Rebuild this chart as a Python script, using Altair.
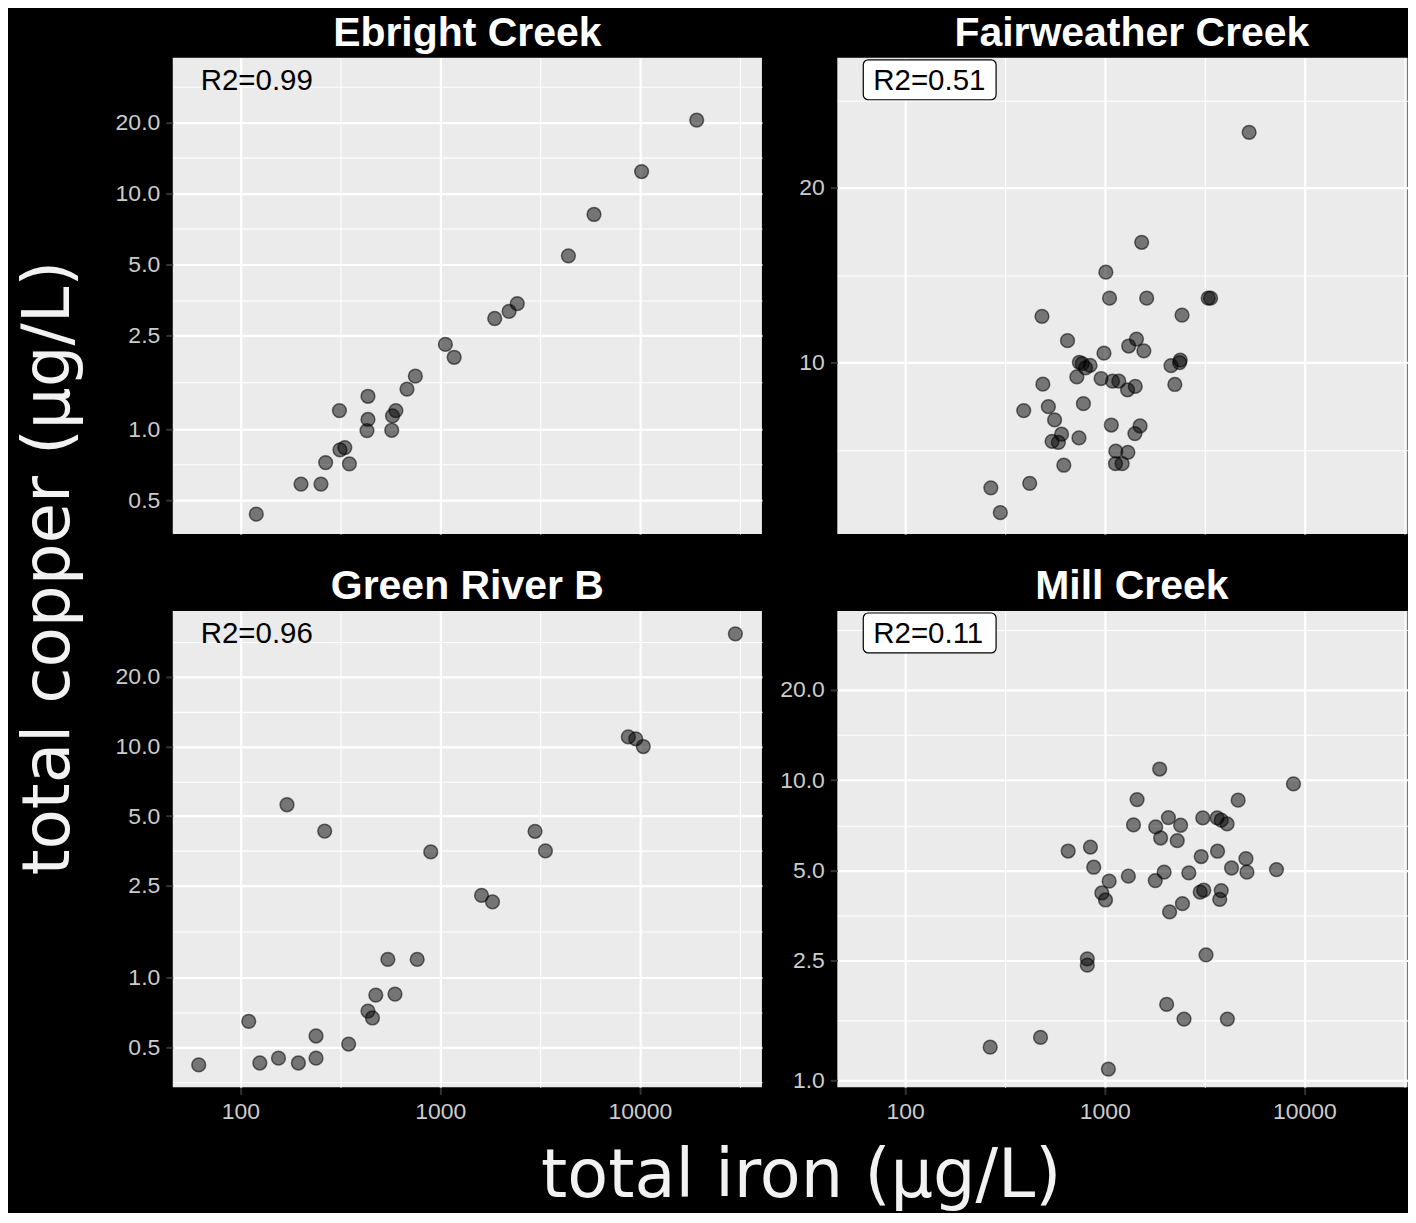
import altair as alt
import pandas as pd

# ---------------- data ----------------
site_names = ["Ebright Creek", "Fairweather Creek", "Green River B", "Mill Creek"]
r2_text = ["R2=0.99", "R2=0.51", "R2=0.96", "R2=0.11"]

ebright_iron = [19250, 10200, 5890, 4385, 2432, 2213, 1875, 1062, 1175, 751, 682, 435, 313,
                600, 577, 435, 430, 572, 333, 315, 267, 351, 201, 253, 120]
ebright_copper = [20.5, 12.4, 8.15, 5.44, 3.41, 3.16, 2.95, 2.29, 2.02, 1.68, 1.48, 1.38, 1.20,
                  1.20, 1.14, 1.10, 0.987, 0.99, 0.836, 0.817, 0.722, 0.713, 0.585, 0.585, 0.436]

fairweather_iron = [5284, 1531, 1013, 1057, 1622, 3296, 3388, 485, 2438, 651, 1442, 1318, 1570,
                    991, 2388, 2371, 2148, 746, 771, 844, 802, 725, 959, 1094, 1176, 1422, 1301,
                    2244, 490, 782, 393, 522, 561, 1079, 1503, 1416, 608, 743, 545, 586, 1136,
                    1306, 1132, 1222, 624, 421, 269, 300]
fairweather_copper = [24.9, 16.1, 14.3, 12.9, 12.9, 12.9, 12.9, 12.0, 12.06, 10.9, 10.97, 10.67,
                      10.47, 10.37, 10.09, 9.99, 9.87, 10.0, 9.95, 9.88, 9.78, 9.44, 9.38, 9.28,
                      9.28, 9.09, 8.97, 9.16, 9.17, 8.49, 8.26, 8.39, 7.96, 7.80, 7.77, 7.54, 7.52,
                      7.41, 7.31, 7.28, 7.03, 7.0, 6.69, 6.69, 6.65, 6.19, 6.08, 5.51]

green_iron = [30070, 8750, 9530, 10400, 171, 264, 2985, 3365, 897, 1611, 1828, 547, 767, 476,
              594, 435, 458, 110, 239, 348, 61.8, 125, 155, 195, 239]
green_copper = [30.7, 11.0, 10.8, 10.0, 5.6, 4.31, 4.30, 3.54, 3.50, 2.27, 2.13, 1.20, 1.20,
                0.842, 0.850, 0.718, 0.670, 0.648, 0.560, 0.517, 0.420, 0.428, 0.449, 0.428, 0.449]

mill_iron = [1884, 8810, 1452, 4656, 2084, 3097, 3656, 3831, 4099, 1393, 1800, 2399, 1905, 2307,
             656, 848, 3041, 3672, 5093, 881, 4315, 5153, 7244, 1983, 2637, 1313, 1052, 1791,
             967, 1009, 3006, 3133, 3831, 3766, 2449, 2113, 818, 818, 3215, 2042, 2494, 4112,
             477, 267, 1043]
mill_copper = [10.9, 9.72, 8.62, 8.58, 7.51, 7.49, 7.49, 7.36, 7.15, 7.10, 6.99, 7.08, 6.42, 6.29,
               5.81, 5.99, 5.57, 5.80, 5.48, 5.13, 5.10, 4.94, 5.04, 4.94, 4.91, 4.79, 4.61, 4.63,
               4.21, 3.99, 4.24, 4.30, 4.29, 4.01, 3.88, 3.64, 2.54, 2.42, 2.62, 1.79, 1.60, 1.60,
               1.39, 1.29, 1.09]

x_tick_values = [100, 1000, 10000]
x_minor_values = [316.23, 3162.3, 31623]
y_ticks_std = [0.5, 1.0, 2.5, 5.0, 10.0, 20.0]
y_minor_std = [0.3536, 0.7071, 1.581, 3.536, 7.071, 14.14, 28.28]
y_ticks_fair = [10, 20]
y_minor_fair = [7.071, 14.14, 28.28]
y_ticks_mill = [1.0, 2.5, 5.0, 10.0, 20.0]
y_minor_mill = [1.581, 3.536, 7.071, 14.14, 31.62]

# ---------------- styling ----------------
PANEL_H = 477
LEFT_W, RIGHT_W = 590, 571          # right column is cropped at the page edge
PX_PER_DECADE = 200
X_LOG_MIN = 1.661
LABEL_FONT = "Liberation Sans"
TITLE_FONT = "DejaVu Sans"


def panel(name, iron, copper, ydom, yticks, yminor, yfmt, r2, boxed, bottom, width, tdx):
    df = pd.DataFrame({"iron": iron, "copper": copper})
    xdom = [10 ** X_LOG_MIN, 10 ** (X_LOG_MIN + width / PX_PER_DECADE)]
    xs = alt.Scale(type="log", domain=xdom, nice=False)
    ys = alt.Scale(type="log", domain=ydom, nice=False)

    minor = alt.Chart(df).mark_point(opacity=0, size=1).encode(
        x=alt.X("iron:Q", scale=xs, axis=alt.Axis(
            orient="top", values=x_minor_values, grid=True, gridColor="white", gridWidth=1.1,
            labels=False, ticks=False, domain=False, title=None, minExtent=0, maxExtent=0)),
        y=alt.Y("copper:Q", scale=ys, axis=alt.Axis(
            orient="right", values=yminor, grid=True, gridColor="white", gridWidth=1.1,
            labels=False, ticks=False, domain=False, title=None, minExtent=0, maxExtent=0)),
    )

    xaxis = alt.Axis(
        orient="bottom", values=x_tick_values, format="d", grid=True, gridColor="white",
        gridWidth=2.2, labels=bottom, ticks=bottom, domain=False, title=None,
        tickSize=7, tickColor="#333333", tickWidth=2, labelFont=LABEL_FONT,
        labelFontSize=23, labelColor="#CCCCCC", labelPadding=6, minExtent=0)
    yaxis = alt.Axis(
        orient="left", values=yticks, format=yfmt, grid=True, gridColor="white",
        gridWidth=2.2, domain=False, title=None, tickSize=7, tickColor="#333333",
        tickWidth=2, labelFont=LABEL_FONT, labelFontSize=23, labelColor="#CCCCCC",
        labelPadding=6, minExtent=0)

    pts = alt.Chart(df).mark_circle(
        size=190, fill="black", fillOpacity=0.5, stroke="black", strokeOpacity=0.55,
        strokeWidth=1.5, opacity=1
    ).encode(
        x=alt.X("iron:Q", scale=xs, axis=xaxis),
        y=alt.Y("copper:Q", scale=ys, axis=yaxis),
    )

    lab_df = pd.DataFrame({"lab": [r2]})
    layers = [minor, pts]
    if boxed:
        box = alt.Chart(lab_df).mark_rect(
            fill="white", stroke="black", strokeWidth=1.2, cornerRadius=5
        ).encode(x=alt.value(26), x2=alt.value(159), y=alt.value(2), y2=alt.value(42))
        layers.append(box)
        tx = 36
    else:
        tx = 28
    txt = alt.Chart(lab_df).mark_text(
        align="left", baseline="alphabetic", font=LABEL_FONT, fontSize=29.5, color="black"
    ).encode(x=alt.value(tx), y=alt.value(32), text="lab:N")
    layers.append(txt)

    return alt.layer(*layers).resolve_axis(x="independent", y="independent").properties(
        width=width, height=PANEL_H,
        title=alt.TitleParams(name, font=LABEL_FONT, fontSize=41, fontWeight="bold",
                              color="white", anchor="middle", frame="group", offset=3,
                              dx=tdx),
    )


p1 = panel(site_names[0], ebright_iron, ebright_copper, [10 ** -0.445, 10 ** 1.576],
           y_ticks_std, y_minor_std, ".1f", r2_text[0], False, False, LEFT_W, 0)
p2 = panel(site_names[1], fairweather_iron, fairweather_copper, [10 ** 0.7042, 10 ** 1.5246],
           y_ticks_fair, y_minor_fair, "d", r2_text[1], True, False, RIGHT_W, 9.5)
p3 = panel(site_names[2], green_iron, green_copper, [10 ** -0.4737, 10 ** 1.586],
           y_ticks_std, y_minor_std, ".1f", r2_text[2], False, True, LEFT_W, 0)
p4 = panel(site_names[3], mill_iron, mill_copper, [10 ** -0.0233, 10 ** 1.564],
           y_ticks_mill, y_minor_mill, ".1f", r2_text[3], True, True, RIGHT_W, 9.5)

grid = alt.concat(
    p1, p2, p3, p4, columns=2, spacing={"row": 32, "column": 17.5},
    title=alt.TitleParams("total copper (µg/L)", orient="left", font=TITLE_FONT, fontSize=66,
                          fontWeight="normal", color="#F2F2F2", anchor="middle", offset=32),
)

chart = alt.vconcat(
    grid,
    title=alt.TitleParams("total iron (µg/L)", orient="bottom", font=TITLE_FONT, fontSize=67,
                          fontWeight="normal", color="#F2F2F2", anchor="middle", offset=21,
                          dx=89.5),
).properties(
    background="black",
    padding={"left": 8, "top": 4, "right": 0, "bottom": 2},
).configure_view(fill="#EBEBEB", strokeWidth=0)

chart.save("out.html", embed_options={"renderer": "svg", "actions": False})
